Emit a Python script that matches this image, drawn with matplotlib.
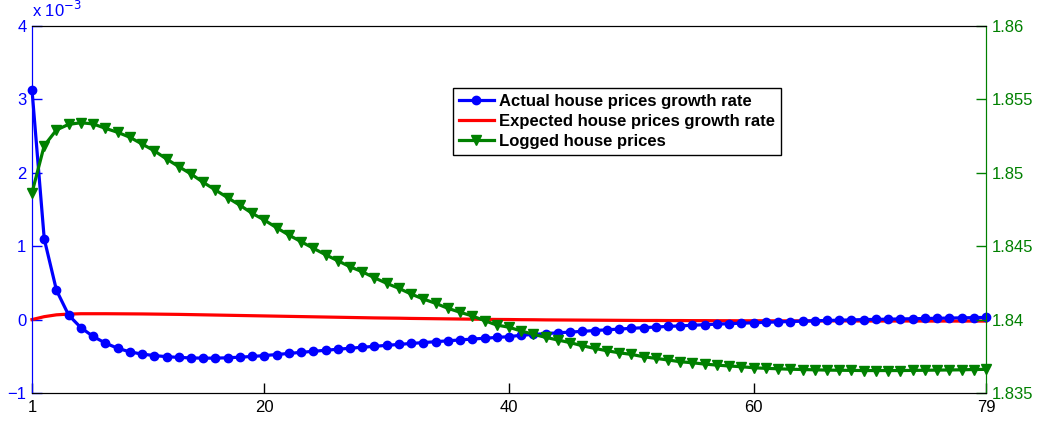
import matplotlib
matplotlib.use("Agg")
import matplotlib.pyplot as plt
import numpy as np

plt.rcParams['font.family'] = ['Liberation Sans', 'DejaVu Sans']

periods = np.arange(1, 80)

# Actual house prices growth rate (units of 1e-3)
actual_growth = [
    3.13, 1.10, 0.40, 0.06, -0.11, -0.23, -0.32, -0.39, -0.44, -0.47,
    -0.49, -0.505, -0.515, -0.522, -0.525, -0.525, -0.52, -0.512, -0.502, -0.49,
    -0.476, -0.461, -0.446, -0.432, -0.418, -0.404, -0.390, -0.377, -0.364, -0.351,
    -0.338, -0.325, -0.313, -0.301, -0.289, -0.277, -0.265, -0.254, -0.243, -0.232,
    -0.213, -0.202, -0.191, -0.180, -0.170, -0.160, -0.149, -0.139, -0.129, -0.119,
    -0.110, -0.101, -0.093, -0.085, -0.077, -0.069, -0.062, -0.055, -0.049, -0.043,
    -0.037, -0.031, -0.026, -0.021, -0.016, -0.012, -0.008, -0.004, 0.000, 0.003,
    0.006, 0.009, 0.012, 0.015, 0.018, 0.021, 0.024, 0.027, 0.030,
]

# Expected house prices growth rate (units of 1e-3)
expected_growth = [
    0.0, 0.04, 0.065, 0.075, 0.08, 0.08, 0.08, 0.079, 0.078, 0.077,
    0.075, 0.073, 0.071, 0.068, 0.065, 0.062, 0.059, 0.056, 0.053, 0.050,
    0.047, 0.044, 0.041, 0.038, 0.035, 0.032, 0.029, 0.026, 0.023, 0.021,
    0.019, 0.016, 0.014, 0.012, 0.010, 0.008, 0.006, 0.004, 0.002, 0.001,
    -0.001, -0.002, -0.004, -0.005, -0.006, -0.007, -0.008, -0.009, -0.010, -0.011,
    -0.012, -0.012, -0.013, -0.013, -0.014, -0.014, -0.015, -0.015, -0.016, -0.016,
    -0.016, -0.017, -0.017, -0.017, -0.018, -0.018, -0.018, -0.018, -0.019, -0.019,
    -0.019, -0.019, -0.019, -0.020, -0.020, -0.020, -0.020, -0.020, -0.020,
]

# Logged house prices (right axis)
logged_prices = [
    1.84864, 1.85185, 1.85292, 1.85330, 1.85341, 1.85333, 1.85303, 1.85276, 1.85242, 1.85196,
    1.85150, 1.85094, 1.85042, 1.84992, 1.84935, 1.84883, 1.84830, 1.84779, 1.84724, 1.84678,
    1.84626, 1.84576, 1.84531, 1.84486, 1.84442, 1.84401, 1.84360, 1.84326, 1.84285, 1.84247,
    1.84213, 1.84174, 1.84140, 1.84111, 1.84077, 1.84050, 1.84025, 1.83993, 1.83963, 1.83948,
    1.83922, 1.83900, 1.83879, 1.83861, 1.83843, 1.83822, 1.83804, 1.83788, 1.83774, 1.83763,
    1.83747, 1.83736, 1.83725, 1.83713, 1.83706, 1.83697, 1.83690, 1.83684, 1.83679, 1.83672,
    1.83668, 1.83665, 1.83662, 1.83660, 1.83658, 1.83656, 1.83655, 1.83654, 1.83653, 1.83653,
    1.83653, 1.83653, 1.83654, 1.83655, 1.83656, 1.83657, 1.83658, 1.83660, 1.83661,
]

x_ticks = [1, 20, 40, 60, 79]
left_ticks = [-1, 0, 1, 2, 3, 4]
right_ticks = [1.835, 1.84, 1.845, 1.85, 1.855, 1.86]
right_labels = ['1.835', '1.84', '1.845', '1.85', '1.855', '1.86']

BLUE = (0, 0, 1)
RED = (1, 0, 0)
GREEN = (0, 0.5, 0)

fig = plt.figure(figsize=(10.37, 4.21), dpi=100)
ax1 = fig.add_axes([32 / 1037, 28 / 421, 954 / 1037, 367 / 421])
ax2 = ax1.twinx()

l1, = ax1.plot(periods, actual_growth, '-o', color=BLUE, lw=2.3, ms=6,
               clip_on=False, zorder=3)
l2, = ax1.plot(periods, expected_growth, '-', color=RED, lw=2.3,
               clip_on=False, zorder=2)
l3, = ax2.plot(periods, logged_prices, '-v', color=GREEN, lw=2.3, ms=7,
               clip_on=False, zorder=3)

ax1.set_xlim(1, 79)
ax1.set_ylim(-1, 4)
ax2.set_ylim(1.835, 1.86)
ax1.set_xticks(x_ticks)
ax1.set_yticks(left_ticks)
ax1.set_yticklabels(['\u22121', '0', '1', '2', '3', '4'])
ax2.set_yticks(right_ticks)
ax2.set_yticklabels(right_labels)

ax1.tick_params(axis='x', direction='in', length=7, width=1, colors='black',
                labelsize=12, pad=5, top=False)
ax1.tick_params(axis='y', direction='in', length=7, width=1, colors=BLUE,
                labelsize=12, pad=4)
ax2.tick_params(axis='y', direction='in', length=7, width=1, colors=GREEN,
                labelsize=12, pad=4)

for ax in (ax1, ax2):
    ax.spines['top'].set_color('black')
    ax.spines['bottom'].set_color('black')
ax1.spines['left'].set_color(BLUE)
ax2.spines['left'].set_color(BLUE)
ax1.spines['right'].set_color(GREEN)
ax2.spines['right'].set_color(GREEN)

ax1.text(0.0, 1.015, r'x 10$^{-3}$', transform=ax1.transAxes, color=BLUE,
         fontsize=12, ha='left', va='bottom')

leg = ax2.legend([l1, l2, l3],
                 ['Actual house prices growth rate',
                  'Expected house prices growth rate',
                  'Logged house prices'],
                 loc='upper left', bbox_to_anchor=(0.441, 0.831),
                 borderaxespad=0, fancybox=False, framealpha=1,
                 edgecolor='black', prop={'weight': 'bold', 'size': 12},
                 handlelength=2.1, handletextpad=0.35, labelspacing=0.3,
                 borderpad=0.35)
leg.get_frame().set_linewidth(1)

fig.savefig('out.png', dpi=100)
